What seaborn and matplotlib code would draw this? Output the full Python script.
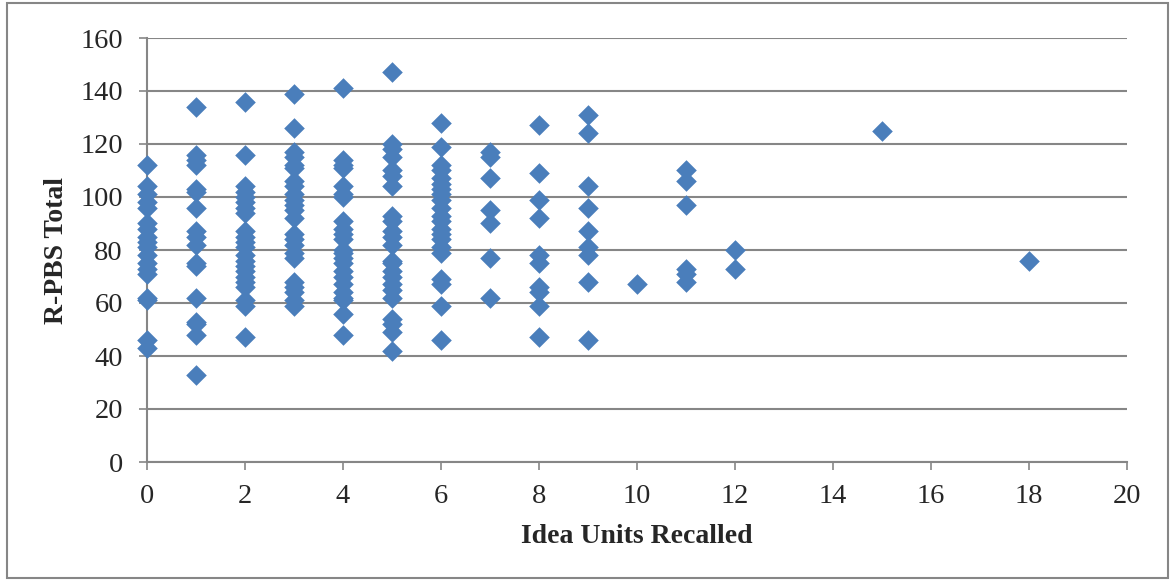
import matplotlib
matplotlib.use("Agg")
import matplotlib.pyplot as plt
from matplotlib.patches import Rectangle
import seaborn as sns
import pandas as pd

# R-PBS Total values per number of idea units recalled
recalled_0 = [112, 104, 101, 98, 96, 90, 88, 85, 83, 81, 78, 75, 73, 71, 62, 61, 46, 43]
recalled_1 = [134, 116, 114, 112, 103, 102, 96, 87, 85, 82, 75, 74, 62, 53, 52, 48, 33]
recalled_2 = [136, 116, 104, 102, 100, 98, 96, 94, 87, 85, 83, 81, 78, 76, 74, 72, 70, 68, 66, 61, 59, 47]
recalled_3 = [139, 126, 117, 115, 112, 111, 106, 104, 101, 99, 97, 95, 92, 86, 84, 82, 79, 77, 68, 66, 64, 61, 59]
recalled_4 = [141, 114, 112, 111, 104, 101, 100, 91, 88, 86, 84, 80, 79, 77, 75, 72, 70, 67, 64, 62, 61, 56, 48]
recalled_5 = [147, 120, 118, 115, 110, 108, 104, 93, 91, 87, 85, 82, 76, 75, 72, 70, 67, 65, 62, 54, 52, 49, 42]
recalled_6 = [128, 119, 112, 110, 107, 105, 103, 101, 99, 96, 93, 91, 88, 86, 84, 81, 79, 69, 67, 59, 46]
recalled_7 = [117, 115, 107, 95, 90, 77, 62]
recalled_8 = [127, 109, 99, 92, 78, 75, 66, 64, 59, 47]
recalled_9 = [131, 124, 104, 96, 87, 81, 78, 68, 46]
recalled_10 = [67]
recalled_11 = [110, 106, 97, 73, 71, 68]
recalled_12 = [80, 73]
recalled_15 = [125]
recalled_18 = [76]

groups = {0: recalled_0, 1: recalled_1, 2: recalled_2, 3: recalled_3, 4: recalled_4,
          5: recalled_5, 6: recalled_6, 7: recalled_7, 8: recalled_8, 9: recalled_9,
          10: recalled_10, 11: recalled_11, 12: recalled_12, 15: recalled_15, 18: recalled_18}

x_ticks = list(range(0, 21, 2))
y_ticks = list(range(0, 161, 20))

rows = [(k, v) for k, vals in groups.items() for v in vals]
df = pd.DataFrame(rows, columns=["Idea Units Recalled", "R-PBS Total"])

sns.set_style("white")
plt.rcParams['font.family'] = ['Liberation Serif', 'DejaVu Serif']

fig = plt.figure(figsize=(11.71, 5.81), dpi=100)
ax = fig.add_axes([147/1171, 1 - 462/581, (1127-147)/1171, (462-38)/581])

grey = '#868686'
ax.set_axisbelow(True)
ax.yaxis.grid(True, color=grey, linewidth=1.5)
ax.xaxis.grid(False)

sns.scatterplot(data=df, x="Idea Units Recalled", y="R-PBS Total", ax=ax,
                marker='D', s=110, color='#4A7EBB', linewidth=0, zorder=3, clip_on=False)

ax.set_xlim(0, 20)
ax.set_ylim(0, 160)
ax.set_xticks(x_ticks)
ax.set_yticks(y_ticks)
ax.set_xticklabels([str(t) for t in x_ticks])
ax.set_yticklabels([str(t) for t in y_ticks])

for side in ['top', 'right']:
    ax.spines[side].set_visible(False)
for side in ['left', 'bottom']:
    ax.spines[side].set_color(grey)
    ax.spines[side].set_linewidth(1.5)

ax.tick_params(axis='x', direction='out', length=5.5, width=1.2, color=grey,
               labelsize=20.5, pad=10, bottom=True)
ax.tick_params(axis='y', direction='out', length=5.8, width=1.2, color=grey,
               labelsize=20.5, pad=11.5, left=True)

ax.set_xlabel("Idea Units Recalled", fontsize=20, fontweight='bold', labelpad=11)
ax.set_ylabel("R-PBS Total", fontsize=20, fontweight='bold', labelpad=8)

fig.patches.append(Rectangle((7/1171, 3/581), (1168-7)/1171, (578-3)/581,
                             transform=fig.transFigure, fill=False,
                             edgecolor=grey, linewidth=1.5))

fig.savefig("out.png", dpi=100, facecolor='white')
